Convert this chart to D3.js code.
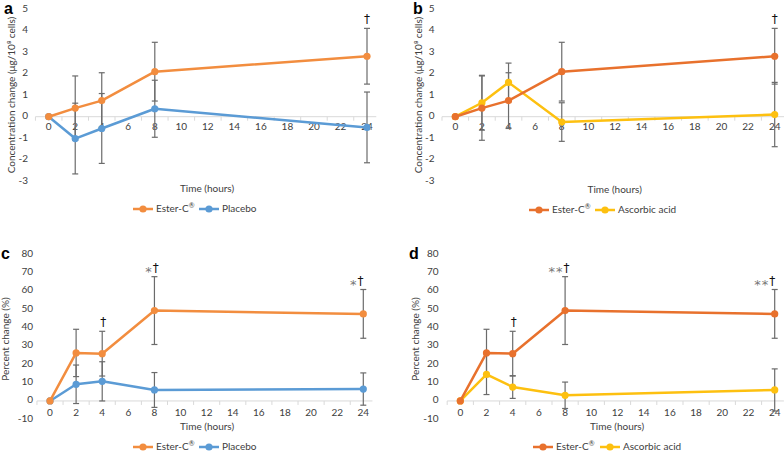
<!DOCTYPE html>
<html>
<head>
<meta charset="utf-8">
<script src="https://cdn.jsdelivr.net/npm/d3@7"></script>
<style>
  html, body { margin: 0; padding: 0; background: #fff; }
  svg { display: block; font-family: Lato, "Open Sans", sans-serif; }
</style>
</head>
<body>
<svg id="chart" width="784" height="452"></svg>
<script>
// ---------- DATA ----------
const hours = [0, 2, 4, 8, 24];
const xTickValues = [0, 2, 4, 6, 8, 10, 12, 14, 16, 18, 20, 22, 24];
const concTicks = [-3, -2, -1, 0, 1, 2, 3, 4, 5];
const pctTicks = [-10, 0, 10, 20, 30, 40, 50, 60, 70, 80];

const concEsterC = [0, 0.4, 0.75, 2.1, 2.82];
const concEsterCSD = [0, 1.5, 1.3, 1.37, 1.3];
const concPlacebo = [0, -1.02, -0.55, 0.37, -0.5];
const concPlaceboSD = [0, 1.65, 1.63, 1.33, 1.65];
const concAscorbic = [0, 0.65, 1.6, -0.25, 0.1];
const concAscorbicSD = [0, 1.28, 0.9, 0.9, 1.5];

const pctEsterC = [0, 26.2, 25.8, 49.3, 47.5];
const pctEsterCSD = [0, 12.9, 12.2, 18.5, 13.3];
const pctPlacebo = [0, 9.1, 10.7, 6.0, 6.5];
const pctPlaceboSD = [0, 10.5, 10.7, 9.5, 8.8];
const pctAscorbic = [0, 14.5, 7.6, 3.1, 6.0];
const pctAscorbicSD = [0, 11.0, 6.2, 7.2, 11.5];

const annotA = [{hour: 24, stars: "", dagger: "†"}];
const annotB = [{hour: 24, stars: "", dagger: "†"}];
const annotC = [{hour: 4, stars: "", dagger: "†"}, {hour: 8, stars: "*", dagger: "†"}, {hour: 24, stars: "*", dagger: "†"}];
const annotD = [{hour: 4, stars: "", dagger: "†"}, {hour: 8, stars: "**", dagger: "†"}, {hour: 24, stars: "**", dagger: "†"}];

const concTitle = "Concentration change (μg/10⁸ cells)";
const pctTitle = "Percent change (%)";
const xTitle = "Time (hours)";
const esterName = "Ester-C";
const esterMark = "®";

// ---------- STYLE ----------
const ORANGE_A = "#F28D3F";
const ORANGE_B = "#E8712D";
const BLUE = "#5B9BD5";
const GOLD = "#FDC010";
const ERR = "#6b6b6b";
const TXT = "#404040";

const svg = d3.select("#chart");

function drawPanel(p) {
  const g = svg.append("g");
  const x = d3.scaleLinear().domain([0, 24]).range([p.x0, p.x24]);
  const y = d3.scaleLinear().domain(p.yDomain).range([p.yBottom, p.yTop]);

  g.append("line")
    .attr("x1", x(-1)).attr("x2", x(24.7))
    .attr("y1", y(0)).attr("y2", y(0))
    .attr("stroke", "#d9d9d9").attr("stroke-width", 1);
  const odd = d3.range(-1, 25, 2);
  g.selectAll(".tk").data(odd).join("line")
    .attr("x1", d => x(d)).attr("x2", d => x(d))
    .attr("y1", y(0)).attr("y2", y(0) + 4)
    .attr("stroke", "#d9d9d9").attr("stroke-width", 1);

  g.selectAll(".xl").data(xTickValues).join("text")
    .attr("x", d => x(d)).attr("y", y(0) + p.xLabelDy)
    .attr("text-anchor", "middle").attr("dominant-baseline", "middle")
    .attr("font-size", 10).attr("fill", TXT)
    .text(d => d);

  g.selectAll(".yl").data(p.yTicks).join("text")
    .attr("x", p.yLabelRight).attr("y", d => y(d))
    .attr("text-anchor", "end").attr("dominant-baseline", "middle")
    .attr("font-size", 10).attr("fill", TXT)
    .text(d => d);

  g.append("text")
    .attr("transform", `translate(${p.yTitleX},${p.yTitleY}) rotate(-90)`)
    .attr("text-anchor", "middle").attr("dominant-baseline", "middle")
    .attr("font-size", 10).attr("fill", TXT)
    .text(p.yTitle);

  g.append("text")
    .attr("x", p.xTitleX).attr("y", p.xTitleY)
    .attr("text-anchor", "middle").attr("dominant-baseline", "middle")
    .attr("font-size", 10).attr("fill", TXT)
    .text(xTitle);

  g.append("text")
    .attr("x", p.letterX).attr("y", p.letterY)
    .attr("font-size", 16).attr("font-weight", "bold")
    .attr("font-family", "Liberation Sans, Arial, sans-serif")
    .attr("fill", "#000").text(p.letter);

  // error bars
  p.series.forEach(s => {
    const pts = hours.map((h, i) => ({h, v: s.values[i], sd: s.sd[i]})).filter(d => d.sd > 0);
    const eg = g.append("g").attr("stroke", ERR).attr("stroke-width", 1.2);
    pts.forEach(d => {
      eg.append("line").attr("x1", x(d.h)).attr("x2", x(d.h))
        .attr("y1", y(d.v - d.sd)).attr("y2", y(d.v + d.sd));
      [d.v - d.sd, d.v + d.sd].forEach(e => {
        eg.append("line").attr("x1", x(d.h) - 3).attr("x2", x(d.h) + 3)
          .attr("y1", y(e)).attr("y2", y(e));
      });
    });
  });

  // lines + markers
  p.series.slice().reverse().forEach(s => {
    const data = hours.map((h, i) => [h, s.values[i]]);
    g.append("path").datum(data)
      .attr("d", d3.line().x(d => x(d[0])).y(d => y(d[1])))
      .attr("fill", "none").attr("stroke", s.color).attr("stroke-width", 2.5)
      .attr("stroke-linejoin", "round");
    g.selectAll(null).data(data).join("circle")
      .attr("cx", d => x(d[0])).attr("cy", d => y(d[1])).attr("r", 3.6)
      .attr("fill", s.color);
  });

  // annotations above Ester-C upper error bar
  const main = p.series[0];
  p.annot.forEach(a => {
    const i = hours.indexOf(a.hour);
    const top = main.values[i] + main.sd[i];
    const t = g.append("text")
      .attr("x", x(a.hour) + (a.hour === 24 ? p.annotShift24 : 1) + (a.stars ? -a.stars.length * 3.5 : 0))
      .attr("y", y(top) - 5)
      .attr("text-anchor", "middle")
      .attr("font-family", "DejaVu Sans, sans-serif");
    if (a.stars) {
      t.append("tspan").attr("fill", "#777").attr("font-size", 13).attr("dy", 4)
        .attr("letter-spacing", 1).text(a.stars);
    }
    t.append("tspan").attr("fill", "#111").attr("font-size", 12)
      .attr("dy", a.stars ? -4 : 0).text(a.dagger);
  });

  // legend
  p.legend.forEach(l => {
    const s = p.series[l.idx];
    g.append("line").attr("x1", l.x).attr("x2", l.x + 20)
      .attr("y1", p.legendY).attr("y2", p.legendY)
      .attr("stroke", s.color).attr("stroke-width", 2.5);
    g.append("circle").attr("cx", l.x + 10).attr("cy", p.legendY).attr("r", 3.6).attr("fill", s.color);
    const t = g.append("text").attr("x", l.x + 23).attr("y", p.legendY)
      .attr("dominant-baseline", "middle").attr("font-size", 10).attr("fill", TXT);
    t.append("tspan").text(s.name);
    if (s.mark) t.append("tspan").attr("font-size", 7).attr("dy", -3).text(s.mark);
  });
}

drawPanel({
  letter: "a", letterX: 4, letterY: 14,
  x0: 48.7, x24: 367, yDomain: [-3, 5], yBottom: 181, yTop: 9.5,
  yTicks: concTicks, yLabelRight: 28, xLabelDy: 11,
  yTitle: concTitle, yTitleX: 12, yTitleY: 95,
  xTitleX: 207, xTitleY: 189,
  annot: annotA, annotShift24: 0,
  series: [
    {name: esterName, mark: esterMark, values: concEsterC, sd: concEsterCSD, color: ORANGE_A},
    {name: "Placebo", values: concPlacebo, sd: concPlaceboSD, color: BLUE}
  ],
  legendY: 209, legend: [{idx: 0, x: 133}, {idx: 1, x: 199}]
});

drawPanel({
  letter: "b", letterX: 413, letterY: 14,
  x0: 455.3, x24: 774.7, yDomain: [-3, 5], yBottom: 181, yTop: 9.5,
  yTicks: concTicks, yLabelRight: 434.5, xLabelDy: 11,
  yTitle: concTitle, yTitleX: 419, yTitleY: 95,
  xTitleX: 614.7, xTitleY: 190,
  annot: annotB, annotShift24: 0,
  series: [
    {name: esterName, mark: esterMark, values: concEsterC, sd: concEsterCSD, color: ORANGE_B},
    {name: "Ascorbic acid", values: concAscorbic, sd: concAscorbicSD, color: GOLD}
  ],
  legendY: 210, legend: [{idx: 0, x: 529}, {idx: 1, x: 595}]
});

drawPanel({
  letter: "c", letterX: 1, letterY: 259,
  x0: 50, x24: 363.3, yDomain: [-10, 80], yBottom: 419.3, yTop: 254.3,
  yTicks: pctTicks, yLabelRight: 33, xLabelDy: 12.5,
  yTitle: pctTitle, yTitleX: 6.5, yTitleY: 339,
  xTitleX: 207, xTitleY: 427.7,
  annot: annotC, annotShift24: -3,
  series: [
    {name: esterName, mark: esterMark, values: pctEsterC, sd: pctEsterCSD, color: ORANGE_A},
    {name: "Placebo", values: pctPlacebo, sd: pctPlaceboSD, color: BLUE}
  ],
  legendY: 447, legend: [{idx: 0, x: 133}, {idx: 1, x: 199}]
});

drawPanel({
  letter: "d", letterX: 409, letterY: 259,
  x0: 460.3, x24: 774.7, yDomain: [-10, 80], yBottom: 419.3, yTop: 254.3,
  yTicks: pctTicks, yLabelRight: 438.5, xLabelDy: 12.5,
  yTitle: pctTitle, yTitleX: 416, yTitleY: 339,
  xTitleX: 617, xTitleY: 427.7,
  annot: annotD, annotShift24: -3,
  series: [
    {name: esterName, mark: esterMark, values: pctEsterC, sd: pctEsterCSD, color: ORANGE_B},
    {name: "Ascorbic acid", values: pctAscorbic, sd: pctAscorbicSD, color: GOLD}
  ],
  legendY: 447, legend: [{idx: 0, x: 533}, {idx: 1, x: 600}]
});
</script>
</body>
</html>
